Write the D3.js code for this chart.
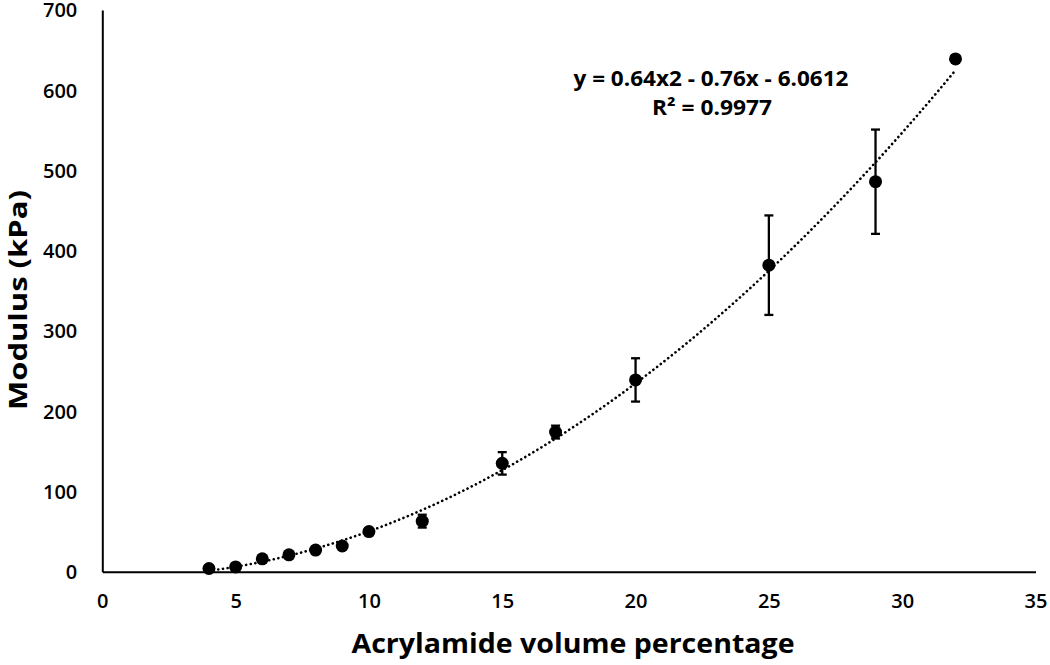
<!DOCTYPE html>
<html>
<head>
<meta charset="utf-8">
<script src="https://cdn.jsdelivr.net/npm/d3@7"></script>
<style>
  body { margin: 0; background: #fff; }
  text { font-family: "Open Sans", Lato, sans-serif; fill: #000; }
</style>
</head>
<body>
<svg class="chart"></svg>
<script>
// data
var acrylamide = [4, 5, 6, 7, 8, 9, 10, 12, 15, 17, 20, 25, 29, 32];
var modulus    = [4, 6, 16, 21, 27, 32, 50, 63, 135, 174, 239, 382, 486, 639];
var errors     = [1, 1, 2, 2, 4, 3, 3, 8, 14, 8, 27, 62, 65, 0];
var xTicks = [0, 5, 10, 15, 20, 25, 30, 35];
var yTicks = [0, 100, 200, 300, 400, 500, 600, 700];
// trendline coefficients shown on the chart: a x^2 + b x + c
var trendCoef = [0.64, -0.76, -6.0612];
var trendLabel = ["y = 0.64x2 - 0.76x - 6.0612", "R² = 0.9977"];

var width = 1050, height = 665;
var margin = {top: 10, right: 14.5, bottom: 93.3, left: 102.3};

var chart = d3.select(".chart")
    .attr("width", width)
    .attr("height", height);

var xScale = d3.scaleLinear()
    .domain([0, 35])
    .range([margin.left, width - margin.right]);

var yScale = d3.scaleLinear()
    .domain([0, 700])
    .range([height - margin.bottom, margin.top]);

var data = acrylamide.map(function(x, i){
  return {x: x, y: modulus[i], err: errors[i]};
});

// axes, no tick marks
chart.append("g")
    .attr("transform", "translate(0," + yScale(0) + ")")
    .call(d3.axisBottom(xScale).tickValues(xTicks).tickSize(0).tickPadding(22))
    .call(function(g){
      g.select(".domain").attr("stroke", "#000").attr("stroke-width", 2);
      g.selectAll("text").style("font-size", "20px").style("font-weight", "600").attr("fill", "#000");
    });

chart.append("g")
    .attr("transform", "translate(" + xScale(0) + ",0)")
    .call(d3.axisLeft(yScale).tickValues(yTicks).tickSize(0).tickPadding(25))
    .call(function(g){
      g.select(".domain").attr("stroke", "#000").attr("stroke-width", 2);
      g.selectAll("text").style("font-size", "20px").style("font-weight", "600").attr("fill", "#000")
        .attr("dy", "0.34em");
    });

// trendline over the data range
var trendPts = d3.range(acrylamide[0], acrylamide[acrylamide.length - 1] + 0.001, 0.25).map(function(x){
  return {x: x, y: trendCoef[0]*x*x + trendCoef[1]*x + trendCoef[2]};
});

var line = d3.line()
    .x(function(d){ return xScale(d.x); })
    .y(function(d){ return yScale(d.y); });

chart.append("path")
    .datum(trendPts)
    .attr("d", line)
    .attr("fill", "none")
    .attr("stroke", "#000")
    .attr("stroke-width", 2.6)
    .attr("stroke-linecap", "round")
    .attr("stroke-dasharray", "0.1,4.6");

// error bars
var bars = chart.append("g").selectAll("g")
    .data(data.filter(function(d){ return d.err > 0; }))
    .enter().append("g");

bars.append("line")
    .attr("x1", function(d){ return xScale(d.x); })
    .attr("x2", function(d){ return xScale(d.x); })
    .attr("y1", function(d){ return yScale(d.y - d.err); })
    .attr("y2", function(d){ return yScale(d.y + d.err); })
    .attr("stroke", "#000").attr("stroke-width", 2.3);

[-1, 1].forEach(function(s){
  bars.append("line")
      .attr("x1", function(d){ return xScale(d.x) - 4.5; })
      .attr("x2", function(d){ return xScale(d.x) + 4.5; })
      .attr("y1", function(d){ return yScale(d.y + s*d.err); })
      .attr("y2", function(d){ return yScale(d.y + s*d.err); })
      .attr("stroke", "#000").attr("stroke-width", 2.3);
});

// points
chart.append("g").selectAll("circle")
    .data(data)
    .enter().append("circle")
    .attr("cx", function(d){ return xScale(d.x); })
    .attr("cy", function(d){ return yScale(d.y); })
    .attr("r", 6.5)
    .attr("fill", "#000");

// trendline label
chart.append("text")
    .attr("x", 711).attr("y", 86)
    .attr("text-anchor", "middle")
    .attr("textLength", 275).attr("lengthAdjust", "spacingAndGlyphs")
    .style("font-size", "21px").style("font-weight", "700")
    .text(trendLabel[0]);

chart.append("text")
    .attr("x", 712).attr("y", 115)
    .attr("text-anchor", "middle")
    .attr("textLength", 120).attr("lengthAdjust", "spacingAndGlyphs")
    .style("font-size", "21px").style("font-weight", "700")
    .text(trendLabel[1]);

// axis titles
chart.append("text")
    .attr("x", 573).attr("y", 653)
    .attr("text-anchor", "middle")
    .attr("textLength", 443).attr("lengthAdjust", "spacingAndGlyphs")
    .style("font-size", "26px").style("font-weight", "700")
    .text("Acrylamide volume percentage");

chart.append("text")
    .attr("transform", "translate(27,300) rotate(-90)")
    .attr("text-anchor", "middle")
    .attr("textLength", 220).attr("lengthAdjust", "spacingAndGlyphs")
    .style("font-size", "25px").style("font-weight", "700")
    .text("Modulus (kPa)");
</script>
</body>
</html>
